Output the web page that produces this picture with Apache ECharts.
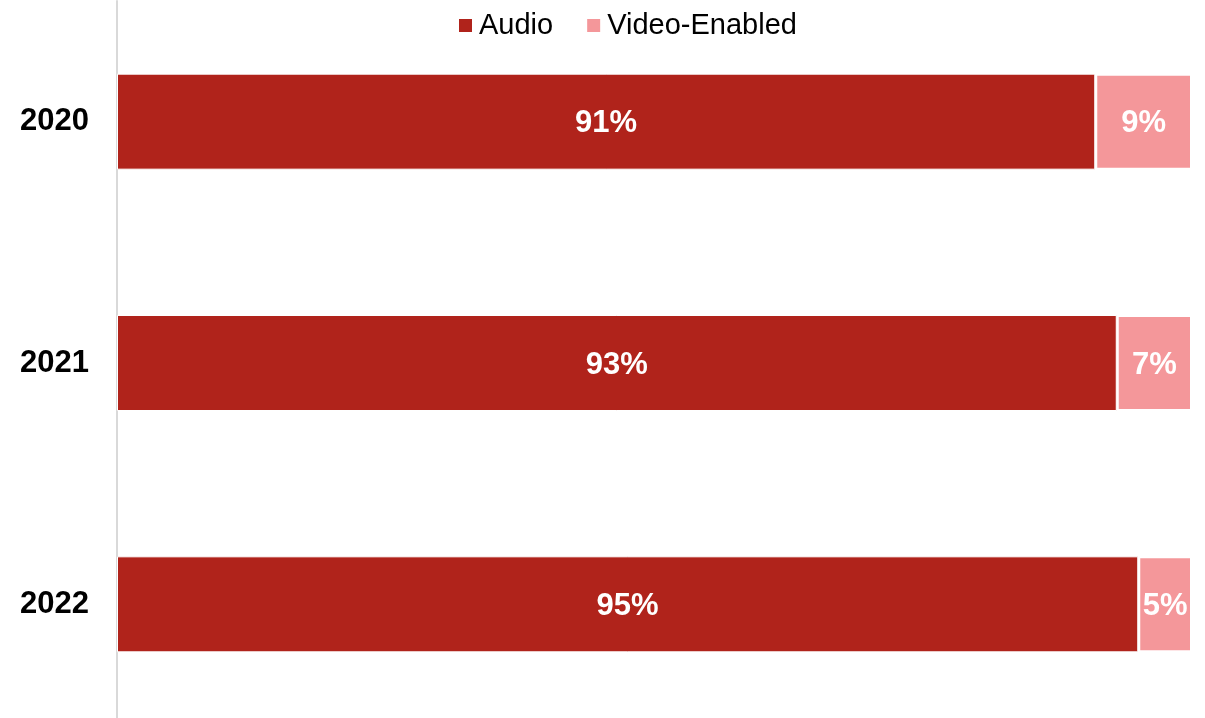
<!DOCTYPE html>
<html>
<head>
<meta charset="utf-8">
<script src="https://cdn.jsdelivr.net/npm/echarts@6/dist/echarts.min.js"></script>
<style>
  html, body { margin: 0; padding: 0; background: #ffffff; }
  #chart { width: 1205px; height: 718px; }
</style>
</head>
<body>
<div id="chart"></div>
<script>
// Share of sessions by type, per year (percent)
const years = ['2020', '2021', '2022'];
const audioShare = [91, 93, 95];
const videoShare = [9, 7, 5];

const FONT = '"Liberation Sans", Arial, sans-serif';

const chart = echarts.init(document.getElementById('chart'), null, { renderer: 'canvas' });

const valueLabel = {
  show: true,
  position: 'inside',
  formatter: '{c}%',
  fontFamily: FONT,
  fontSize: 31,
  fontWeight: 'bold',
  color: '#ffffff',
  offset: [0, 2]
};

chart.setOption({
  animation: false,
  backgroundColor: '#ffffff',
  legend: {
    left: 452,
    top: 6,
    icon: 'rect',
    itemWidth: 15,
    itemHeight: 15,
    itemGap: 32,
    textStyle: { fontFamily: FONT, fontSize: 29, color: '#000000', padding: [0, 0, 0, 1] },
    data: ['Audio', 'Video-Enabled']
  },
  grid: {
    left: 117, right: 13, top: 1, height: 724,
    containLabel: false,
    outerBoundsMode: 'none'
  },
  xAxis: {
    type: 'value',
    min: 0,
    max: 100,
    show: false
  },
  yAxis: {
    type: 'category',
    data: years,
    inverse: true,
    axisLine: { show: true, lineStyle: { color: '#d9d9d9', width: 2 } },
    axisTick: { show: false },
    splitLine: { show: false },
    axisLabel: {
      fontFamily: FONT,
      fontSize: 31,
      fontWeight: 'bold',
      color: '#000000',
      margin: 28
    }
  },
  series: [
    {
      name: 'Audio',
      type: 'bar',
      stack: 'share',
      barWidth: 96,
      data: audioShare,
      itemStyle: { color: '#b0231b', borderColor: '#ffffff', borderWidth: 1 },
      label: valueLabel
    },
    {
      name: 'Video-Enabled',
      type: 'bar',
      stack: 'share',
      barWidth: 96,
      data: videoShare,
      itemStyle: { color: '#f4979a', borderColor: '#ffffff', borderWidth: 2 },
      label: valueLabel
    }
  ]
});
</script>
</body>
</html>
